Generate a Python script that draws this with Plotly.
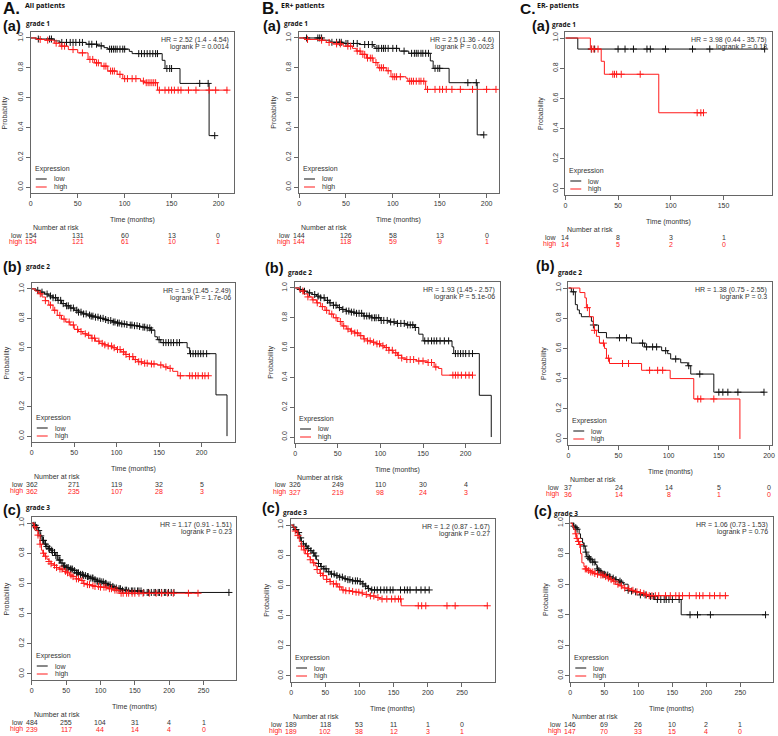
import plotly.graph_objects as go
from bisect import bisect_right

W, H = 778, 736
FONT = "Liberation Sans"
BOLD = "Open Sans"
BLACK = "#111111"
RED = "#ff1a1a"
AXC = "#666666"
TXC = "#333333"

# ------------------------------------------------------------------ data
# A (all patients) grade 1
A1_low_t = [0, 6, 25, 31, 59, 71, 78, 82, 105, 108, 140, 143, 159, 190, 196]
A1_low_s = [1, 0.993, 0.98, 0.97, 0.958, 0.947, 0.935, 0.925, 0.91, 0.895, 0.85, 0.795, 0.695, 0.345, 0.345]
A1_low_c = [8, 20, 22, 33, 38, 42, 45, 48, 52, 55, 62, 65, 70, 75, 84, 86, 88, 90, 92, 95, 98, 100, 115, 118,
            121, 124, 127, 130, 133, 135, 145, 148, 150, 180, 189, 196]
A1_high_t = [0, 6, 15, 25, 31, 40, 50, 61, 68, 75, 82, 92, 98, 117, 121, 135, 210]
A1_high_s = [1, 0.99, 0.985, 0.965, 0.945, 0.922, 0.9, 0.856, 0.833, 0.811, 0.778, 0.756, 0.727, 0.711, 0.7, 0.65, 0.65]
A1_high_c = [10, 18, 27, 33, 36, 45, 55, 63, 66, 70, 72, 78, 80, 85, 87, 89, 95, 100, 103, 108, 112, 120, 123, 125,
             127, 129, 131, 133, 137, 143, 147, 150, 153, 157, 160, 168, 176, 190, 197, 209]
A1_risk_low = [154, 131, 60, 13, 0]
A1_risk_high = [154, 121, 61, 10, 1]
A1_stats = ["HR = 2.52 (1.4 - 4.54)", "logrank P = 0.0014"]

# B (ER+) grade 1
B1_low_t = [0, 25, 33, 47, 64, 79, 81, 107, 117, 140, 143, 160, 190, 197]
B1_low_s = [1, 0.985, 0.971, 0.963, 0.956, 0.945, 0.93, 0.912, 0.897, 0.846, 0.796, 0.7, 0.35, 0.35]
B1_low_c = [8, 20, 22, 24, 35, 40, 43, 45, 50, 52, 58, 62, 70, 74, 78, 83, 85, 88, 90, 92, 95, 100, 104, 112,
            120, 123, 125, 127, 130, 132, 135, 138, 145, 148, 150, 180, 189, 197]
B1_high_t = [0, 6, 20, 29, 36, 47, 57, 61, 66, 72, 79, 84, 93, 98, 114, 116, 135, 210]
B1_high_s = [1, 0.99, 0.985, 0.97, 0.96, 0.945, 0.93, 0.912, 0.89, 0.865, 0.835, 0.8, 0.78, 0.74, 0.73, 0.71, 0.655, 0.655]
B1_high_c = [9, 24, 32, 40, 44, 52, 55, 62, 65, 68, 70, 73, 76, 78, 82, 86, 88, 90, 95, 100, 102, 104, 108, 118,
             120, 122, 125, 128, 130, 133, 137, 145, 150, 153, 157, 163, 172, 185, 200, 210]
B1_risk_low = [144, 126, 58, 13, 0]
B1_risk_high = [144, 118, 59, 9, 1]
B1_stats = ["HR = 2.5 (1.36 - 4.6)", "logrank P = 0.0023"]

# C (ER-) grade 1
C1_low_t = [0, 11.8, 189]
C1_low_s = [1, 0.927, 0.927]
C1_low_c = [24.6, 27.8, 50, 56.6, 64.6, 77.4, 80.6, 95, 120.6, 137, 189]
C1_high_t = [0, 23.7, 34, 37, 88.6, 131]
C1_high_s = [1, 0.927, 0.846, 0.76, 0.505, 0.505]
C1_high_c = [25, 27, 31, 45, 46.6, 48.6, 53, 71, 125, 128.5, 131]
C1_risk_low = [14, 8, 3, 1]
C1_risk_high = [14, 5, 2, 0]
C1_stats = ["HR = 3.98 (0.44 - 35.75)", "logrank P = 0.18"]

# A grade 2
A2_low_t = [0, 5, 10, 15, 20, 25, 30, 35, 40, 45, 50, 55, 60, 65, 70, 75, 80, 85, 90, 95, 100, 105, 110, 115,
            120, 125, 130, 135, 140, 145, 148, 152, 183, 186, 217, 230]
A2_low_s = [1, 0.99, 0.978, 0.965, 0.952, 0.94, 0.922, 0.9, 0.885, 0.87, 0.855, 0.842, 0.83, 0.822, 0.815, 0.808,
            0.8, 0.792, 0.785, 0.775, 0.768, 0.762, 0.758, 0.754, 0.75, 0.745, 0.74, 0.735, 0.72, 0.675, 0.655,
            0.635, 0.6, 0.56, 0.28, 0.0]
A2_low_c = [7, 12, 18, 22, 25, 28, 31, 34, 37, 41, 43, 46, 49, 53, 55, 58, 61, 64, 68, 70, 72, 75, 78, 81, 84, 87,
            90, 93, 96, 98, 101, 103, 106, 109, 112, 116, 118, 121, 124, 127, 131, 133, 136, 139, 141, 150, 155,
            158, 161, 164, 167, 171, 174, 187, 190, 193, 196, 199, 202, 206]
A2_high_t = [0, 4, 8, 12, 16, 20, 25, 30, 35, 40, 45, 50, 55, 60, 65, 70, 75, 80, 85, 90, 95, 100, 105, 110, 115,
             120, 125, 130, 140, 148, 155, 160, 166, 172, 208]
A2_high_s = [1, 0.985, 0.967, 0.945, 0.92, 0.89, 0.855, 0.82, 0.795, 0.775, 0.755, 0.725, 0.71, 0.695, 0.685,
             0.665, 0.645, 0.63, 0.62, 0.612, 0.6, 0.588, 0.572, 0.555, 0.54, 0.52, 0.505, 0.495, 0.49, 0.483,
             0.47, 0.46, 0.44, 0.41, 0.41]
A2_high_c = [10, 16, 22, 27, 33, 38, 44, 49, 54, 58, 63, 67, 71, 74, 79, 83, 86, 90, 94, 97, 101, 104, 108, 111,
             115, 119, 122, 126, 129, 133, 136, 141, 144, 152, 158, 163, 175, 186, 189, 193, 196, 201, 204, 208]
A2_risk_low = [362, 271, 119, 32, 5]
A2_risk_high = [362, 235, 107, 28, 3]
A2_stats = ["HR = 1.9 (1.45 - 2.49)", "logrank P = 1.7e-06"]

# B grade 2
B2_low_t = [0, 5, 10, 15, 20, 25, 30, 35, 40, 45, 50, 55, 60, 65, 70, 80, 90, 100, 110, 120, 130, 140, 145,
            150, 184, 186, 216, 230]
B2_low_s = [1, 0.99, 0.978, 0.967, 0.956, 0.945, 0.934, 0.917, 0.9, 0.884, 0.868, 0.856, 0.845, 0.838, 0.83,
            0.812, 0.8, 0.782, 0.772, 0.762, 0.752, 0.735, 0.69, 0.645, 0.605, 0.56, 0.28, 0.0]
B2_low_c = [6, 11, 17, 23, 27, 30, 34, 38, 41, 45, 48, 52, 56, 60, 63, 66, 69, 72, 75, 78, 81, 84, 87, 90, 93,
            95, 98, 101, 104, 108, 112, 116, 120, 124, 128, 132, 135, 138, 141, 152, 156, 160, 163, 166, 170,
            175, 180, 188, 191, 194, 197, 200, 204, 208]
B2_high_t = [0, 5, 10, 15, 20, 25, 30, 35, 40, 45, 50, 55, 60, 65, 70, 75, 80, 85, 90, 95, 100, 105, 110, 115,
             120, 125, 130, 142, 155, 163, 168, 172, 208]
B2_high_s = [1, 0.98, 0.96, 0.94, 0.92, 0.9, 0.875, 0.85, 0.825, 0.8, 0.775, 0.745, 0.725, 0.71, 0.698, 0.68,
             0.658, 0.645, 0.636, 0.625, 0.612, 0.6, 0.582, 0.565, 0.548, 0.53, 0.52, 0.51, 0.5, 0.47, 0.46,
             0.415, 0.415]
B2_high_c = [9, 15, 21, 26, 32, 37, 43, 48, 53, 57, 62, 66, 70, 73, 77, 81, 85, 88, 92, 96, 99, 103, 107, 110,
             114, 118, 121, 125, 131, 135, 139, 145, 150, 156, 160, 165, 185, 188, 191, 195, 200, 204, 208]
B2_risk_low = [326, 249, 110, 30, 4]
B2_risk_high = [327, 219, 98, 24, 3]
B2_stats = ["HR = 1.93 (1.45 - 2.57)", "logrank P = 5.1e-06"]

# C grade 2
C2_low_t = [0, 3, 7, 9, 11, 13, 23, 25, 30, 38, 63, 76, 93, 99, 102, 112, 119, 122, 145, 195]
C2_low_s = [1, 0.975, 0.89, 0.855, 0.83, 0.81, 0.78, 0.755, 0.705, 0.67, 0.635, 0.61, 0.585, 0.565, 0.53,
            0.505, 0.485, 0.43, 0.31, 0.31]
C2_low_c = [5, 25, 51, 58, 74, 78, 84, 88, 97, 107, 120, 131, 150, 154, 159, 169, 195]
C2_high_t = [0, 11.5, 16.5, 18, 21, 25, 26, 28, 31, 36, 38, 41, 73, 101.5, 125, 171]
C2_high_s = [1, 0.97, 0.935, 0.87, 0.81, 0.75, 0.72, 0.68, 0.635, 0.6, 0.535, 0.5, 0.455, 0.4, 0.265, 0.0]
C2_high_c = [19, 26, 35, 40, 54, 60, 81, 89, 94, 129, 132, 145]
C2_risk_low = [37, 24, 14, 5, 0]
C2_risk_high = [36, 14, 8, 1, 0]
C2_stats = ["HR = 1.38 (0.75 - 2.55)", "logrank P = 0.3"]

# A grade 3
A3_low_t = [0, 3, 6, 9, 12, 15, 18, 21, 24, 27, 30, 34, 38, 42, 46, 50, 55, 60, 65, 70, 75, 80, 85, 90, 95,
            100, 105, 110, 115, 120, 125, 130, 140, 160, 287]
A3_low_s = [1, 0.985, 0.97, 0.95, 0.915, 0.885, 0.86, 0.845, 0.83, 0.82, 0.805, 0.785, 0.755, 0.735, 0.715,
            0.705, 0.695, 0.685, 0.67, 0.66, 0.652, 0.645, 0.635, 0.625, 0.615, 0.61, 0.6, 0.59, 0.58, 0.57,
            0.565, 0.555, 0.55, 0.54, 0.54]
A3_low_c = [3, 5, 7, 10, 13, 16, 17, 20, 22, 25, 26, 29, 30, 33, 35, 37, 40, 41, 44, 47, 48, 51, 53, 56, 57, 59,
            62, 65, 66, 68, 71, 74, 75, 78, 81, 82, 85, 88, 89, 92, 95, 96, 99, 101, 104, 107, 108, 111, 114,
            118, 120, 123, 127, 129, 132, 136, 138, 141, 145, 147, 150, 154, 156, 159, 163, 168, 170, 174, 178,
            180, 184, 186, 189, 193, 195, 199, 203, 207, 287]
A3_high_c = [4, 9, 12, 17, 20, 25, 28, 33, 36, 41, 44, 49, 52, 57, 60, 65, 68, 73, 76, 81, 84, 89, 92, 97, 100,
             105, 108, 113, 116, 121, 124, 130, 133, 138, 141, 146, 150, 156, 162, 171, 181, 189, 198, 206, 228,
             242]
A3_high_t = [0, 3, 6, 9, 12, 14, 16, 19, 22, 25, 28, 32, 36, 40, 45, 50, 55, 60, 65, 70, 75, 80, 85, 90, 100,
             110, 120, 127, 242]
A3_high_s = [1, 0.975, 0.95, 0.92, 0.86, 0.82, 0.8, 0.78, 0.76, 0.745, 0.73, 0.72, 0.705, 0.695, 0.68, 0.67,
             0.655, 0.645, 0.63, 0.62, 0.6, 0.592, 0.585, 0.58, 0.575, 0.565, 0.555, 0.535, 0.535]
A3_risk_low = [484, 255, 104, 31, 4, 1]
A3_risk_high = [239, 117, 44, 14, 4, 0]
A3_stats = ["HR = 1.17 (0.91 - 1.51)", "logrank P = 0.23"]

# B grade 3
B3_low_t = [0, 3, 6, 9, 12, 15, 18, 21, 24, 28, 31, 34, 37, 40, 43, 47, 52, 58, 64, 70, 76, 82, 90, 100, 104,
            108, 112, 116, 202]
B3_low_s = [1, 0.985, 0.97, 0.95, 0.915, 0.89, 0.875, 0.86, 0.845, 0.83, 0.815, 0.795, 0.77, 0.745, 0.725,
            0.71, 0.69, 0.675, 0.665, 0.655, 0.645, 0.638, 0.63, 0.625, 0.61, 0.595, 0.58, 0.57, 0.57]
B3_low_c = [4, 7, 11, 14, 18, 22, 25, 29, 33, 36, 40, 44, 48, 51, 55, 59, 63, 67, 71, 75, 79, 83, 86, 90, 94,
            97, 101, 105, 109, 113, 118, 122, 126, 131, 136, 140, 145, 149, 160, 166, 170, 174, 183, 190, 196, 202]
B3_high_t = [0, 3, 6, 9, 12, 15, 18, 21, 25, 28, 31, 35, 38, 42, 46, 52, 57, 62, 68, 74, 80, 88, 95, 100, 105,
             115, 124, 129, 161, 287]
B3_high_s = [1, 0.985, 0.96, 0.93, 0.89, 0.86, 0.835, 0.81, 0.79, 0.77, 0.75, 0.73, 0.705, 0.68, 0.665, 0.64,
             0.625, 0.61, 0.59, 0.57, 0.565, 0.56, 0.555, 0.55, 0.54, 0.53, 0.52, 0.51, 0.465, 0.465]
B3_high_c = [6, 10, 15, 19, 24, 28, 33, 38, 43, 47, 52, 57, 62, 66, 71, 76, 80, 85, 90, 95, 99, 104, 110, 116,
             121, 127, 133, 140, 147, 152, 157, 160, 186, 191, 197, 228, 240, 287]
B3_risk_low = [189, 118, 53, 11, 1, 0]
B3_risk_high = [189, 102, 38, 12, 3, 1]
B3_stats = ["HR = 1.2 (0.87 - 1.67)", "logrank P = 0.27"]

# C grade 3
C3_low_t = [0, 5, 8, 10, 13, 15, 18, 20, 22, 24, 27, 29, 33, 37, 39, 42, 44, 48, 51, 56, 61, 66, 71, 75, 78,
            85, 90, 95, 102, 112, 124, 163, 287]
C3_low_s = [1, 0.98, 0.97, 0.96, 0.93, 0.9, 0.87, 0.85, 0.81, 0.78, 0.77, 0.76, 0.745, 0.73, 0.7, 0.69, 0.68,
            0.665, 0.66, 0.65, 0.64, 0.63, 0.62, 0.61, 0.6, 0.56, 0.555, 0.55, 0.53, 0.52, 0.5, 0.4, 0.4]
C3_low_c = [5, 8, 10, 20, 23, 26, 28, 30, 33, 36, 40, 42, 45, 48, 50, 52, 55, 58, 63, 67, 73, 75, 85, 90, 96,
            103, 110, 118, 122, 128, 133, 138, 141, 145, 150, 160, 176, 187, 206, 287]
C3_high_t = [0, 3, 5, 7, 9, 11, 13, 15, 17, 20, 22, 26, 30, 35, 40, 45, 50, 55, 58, 62, 66, 71, 76, 80, 85, 90,
             95, 100, 105, 110, 115, 231]
C3_high_s = [1, 0.98, 0.96, 0.93, 0.9, 0.88, 0.86, 0.8, 0.74, 0.715, 0.7, 0.69, 0.68, 0.67, 0.665, 0.66, 0.65,
             0.64, 0.63, 0.62, 0.6, 0.59, 0.58, 0.575, 0.57, 0.56, 0.55, 0.545, 0.54, 0.53, 0.525, 0.525]
C3_high_c = [8, 10, 12, 14, 22, 24, 27, 30, 33, 36, 40, 45, 48, 52, 56, 60, 64, 70, 75, 80, 86, 92, 98, 103,
             108, 112, 116, 120, 125, 130, 140, 147, 155, 160, 165, 175, 185, 190, 195, 205, 212, 220, 228]
C3_risk_low = [146, 69, 26, 10, 2, 1]
C3_risk_high = [147, 70, 33, 15, 4, 0]
C3_stats = ["HR = 1.06 (0.73 - 1.53)", "logrank P = 0.76"]

TICKS_150 = [0, 50, 100, 150]
TICKS_200 = [0, 50, 100, 150, 200]
TICKS_250 = [0, 50, 100, 150, 200, 250]
Y_TICKS = [0.0, 0.2, 0.4, 0.6, 0.8, 1.0]
Y_TICK_TEXT = ["0.0", "0.2", "0.4", "0.6", "0.8", "1.0"]

COL_HEADERS = [("A.", "All patients"), ("B.", "ER+ patients"), ("C.", "ER- patients")]

# ------------------------------------------------------------------ layout helpers
def px(x):
    return x / W


def py(y):
    return 1 - y / H


def surv_at(ts, ss, t):
    i = bisect_right(ts, t) - 1
    return ss[max(i, 0)]


# box = (left, right, top, bottom) in px; tp = (x_tag, y_tag, x_grade, y_grade)
panels = [
    dict(d=(A1_low_t, A1_low_s, A1_low_c, A1_high_t, A1_high_s, A1_high_c), rl=A1_risk_low, rh=A1_risk_high,
         st=A1_stats, ticks=TICKS_200, xmax=216, box=(29, 233, 32, 193), tag="(a)", grade="grade 1",
         tp=(0, 26, 23, 23)),
    dict(d=(B1_low_t, B1_low_s, B1_low_c, B1_high_t, B1_high_s, B1_high_c), rl=B1_risk_low, rh=B1_risk_high,
         st=B1_stats, ticks=TICKS_200, xmax=213, box=(299, 500, 32, 193), tag="(a)", grade="grade 1",
         tp=(262, 26, 283, 23)),
    dict(d=(C1_low_t, C1_low_s, C1_low_c, C1_high_t, C1_high_s, C1_high_c), rl=C1_risk_low, rh=C1_risk_high,
         st=C1_stats, ticks=TICKS_150, xmax=196, box=(567, 775, 32, 195), tag="(a)", grade="grade 1",
         tp=(532, 26, 553, 24)),
    dict(d=(A2_low_t, A2_low_s, A2_low_c, A2_high_t, A2_high_s, A2_high_c), rl=A2_risk_low, rh=A2_risk_high,
         st=A2_stats, ticks=TICKS_200, xmax=240, box=(30, 235, 283, 442), tag="(b)", grade="grade 2",
         tp=(0, 267, 23, 266)),
    dict(d=(B2_low_t, B2_low_s, B2_low_c, B2_high_t, B2_high_s, B2_high_c), rl=B2_risk_low, rh=B2_risk_high,
         st=B2_stats, ticks=TICKS_200, xmax=240, box=(295, 501, 282, 443), tag="(b)", grade="grade 2",
         tp=(264, 268, 287, 272)),
    dict(d=(C2_low_t, C2_low_s, C2_low_c, C2_high_t, C2_high_s, C2_high_c), rl=C2_risk_low, rh=C2_risk_high,
         st=C2_stats, ticks=TICKS_200, xmax=203, box=(570, 775, 282, 445), tag="(b)", grade="grade 2",
         tp=(536, 266, 559, 272)),
    dict(d=(A3_low_t, A3_low_s, A3_low_c, A3_high_t, A3_high_s, A3_high_c), rl=A3_risk_low, rh=A3_risk_high,
         st=A3_stats, ticks=TICKS_250, xmax=298, box=(30, 236, 517, 680), tag="(c)", grade="grade 3",
         tp=(0, 510, 23, 508)),
    dict(d=(B3_low_t, B3_low_s, B3_low_c, B3_high_t, B3_high_s, B3_high_c), rl=B3_risk_low, rh=B3_risk_high,
         st=B3_stats, ticks=TICKS_250, xmax=298, box=(291, 496, 519, 682), tag="(c)", grade="grade 3",
         tp=(261, 508, 282, 512)),
    dict(d=(C3_low_t, C3_low_s, C3_low_c, C3_high_t, C3_high_s, C3_high_c), rl=C3_risk_low, rh=C3_risk_high,
         st=C3_stats, ticks=TICKS_250, xmax=298, box=(572, 776, 517, 682), tag="(c)", grade="grade 3",
         tp=(534, 511, 555, 513)),
]

fig = go.Figure()
layout = dict(width=W, height=H, margin=dict(l=0, r=0, t=0, b=0, pad=0), paper_bgcolor="white",
              plot_bgcolor="white", showlegend=False, font=dict(family=FONT, size=7, color=TXC))
annotations = []
shapes = []


def ann(text, x, y, xref="paper", yref="paper", size=7, color=TXC, xanchor="center", yanchor="middle",
        family=FONT, angle=0, bold=False):
    annotations.append(dict(text=f"<b>{text}</b>" if bold else text, x=x, y=y, xref=xref, yref=yref,
                            showarrow=False, xanchor=xanchor, yanchor=yanchor, textangle=angle,
                            font=dict(family=family, size=size, color=color), borderpad=0))


for i, p in enumerate(panels, start=1):
    xa = "x" if i == 1 else f"x{i}"
    ya = "y" if i == 1 else f"y{i}"
    L, R, T, B = p["box"]
    lt, ls, lc, ht, hs, hc = p["d"]
    for ts, ss, cs, col in ((lt, ls, lc, BLACK), (ht, hs, hc, RED)):
        fig.add_trace(go.Scatter(x=ts, y=ss, mode="lines", line=dict(color=col, width=1, shape="hv"),
                                 xaxis=xa, yaxis=ya, hoverinfo="skip"))
        fig.add_trace(go.Scatter(x=cs, y=[surv_at(ts, ss, c) for c in cs], mode="markers",
                                 marker=dict(symbol="cross-thin", size=5, color=col,
                                             line=dict(color=col, width=1)),
                                 xaxis=xa, yaxis=ya, hoverinfo="skip"))
    axkey_x = "xaxis" if i == 1 else f"xaxis{i}"
    axkey_y = "yaxis" if i == 1 else f"yaxis{i}"
    layout[axkey_x] = dict(domain=[px(L), px(R)], range=[0, p["xmax"]], anchor=ya, tickvals=p["ticks"],
                           showline=True, mirror=True, linecolor=AXC, linewidth=1, ticks="outside", ticklen=4,
                           tickcolor=AXC, tickfont=dict(size=7, color=TXC, family=FONT), showgrid=False,
                           zeroline=False)
    layout[axkey_y] = dict(domain=[py(B), py(T)], range=[-0.04, 1.04], anchor=xa, tickvals=Y_TICKS,
                           ticktext=Y_TICK_TEXT, tickangle=-90, showline=True, mirror=True, linecolor=AXC,
                           linewidth=1, ticks="outside", ticklen=4, tickcolor=AXC,
                           tickfont=dict(size=7, color=TXC, family=FONT), showgrid=False, zeroline=False)
    # stats text
    ann(p["st"][0], px(R - 4), py(T + 8), xanchor="right")
    ann(p["st"][1], px(R - 4), py(T + 15), xanchor="right")
    # y label
    ann("Probability", px(L - 25), py((T + B) / 2), angle=-90)
    # x label
    ann("Time (months)", px((L + R) / 2), py(B + 27))
    # legend
    ann("Expression", px(L + 3), py(B - 24), xanchor="left")
    ann("low", px(L + 22), py(B - 14), xanchor="left")
    ann("high", px(L + 22), py(B - 6), xanchor="left")
    shapes.append(dict(type="line", xref="paper", yref="paper", x0=px(L + 5), x1=px(L + 16),
                       y0=py(B - 14), y1=py(B - 14), line=dict(color=BLACK, width=1)))
    shapes.append(dict(type="line", xref="paper", yref="paper", x0=px(L + 5), x1=px(L + 16),
                       y0=py(B - 6), y1=py(B - 6), line=dict(color=RED, width=1)))
    # number at risk
    ann("Number at risk", px(L + 1), py(B + 34), xanchor="left")
    ann("low", px(L - 8), py(B + 42), xanchor="right")
    ann("high", px(L - 8), py(B + 49), xanchor="right", color=RED)
    for tx, nl, nh in zip(p["ticks"], p["rl"], p["rh"]):
        ann(str(nl), tx, py(B + 42), xref=xa)
        ann(str(nh), tx, py(B + 49), xref=xa, color=RED)
    # panel tag
    xt, yt, xg, yg = p["tp"]
    ann(p["tag"], px(xt), py(yt), xanchor="left", size=14.5, color="#111", family=FONT, bold=True)
    ann(p["grade"], px(xg), py(yg), xanchor="left", size=6.5, color="#111", family=BOLD, bold=True)

# column headers: (letter x, letter size, title x)
for (letter, title), (xl, sz, xtit) in zip(COL_HEADERS, [(0, 17, 22), (261, 17, 280), (520, 15.5, 537)]):
    ann(letter, px(xl), py(9), xanchor="left", size=sz, color="#111", family=FONT, bold=True)
    ann(title, px(xtit), py(6), xanchor="left", size=7, color="#111", family=BOLD, bold=True)

layout["annotations"] = annotations
layout["shapes"] = shapes
fig.update_layout(**layout)
fig.write_html("out.html", config={"displayModeBar": False},
               post_script="document.body.style.margin='0';document.body.style.padding='0';")
